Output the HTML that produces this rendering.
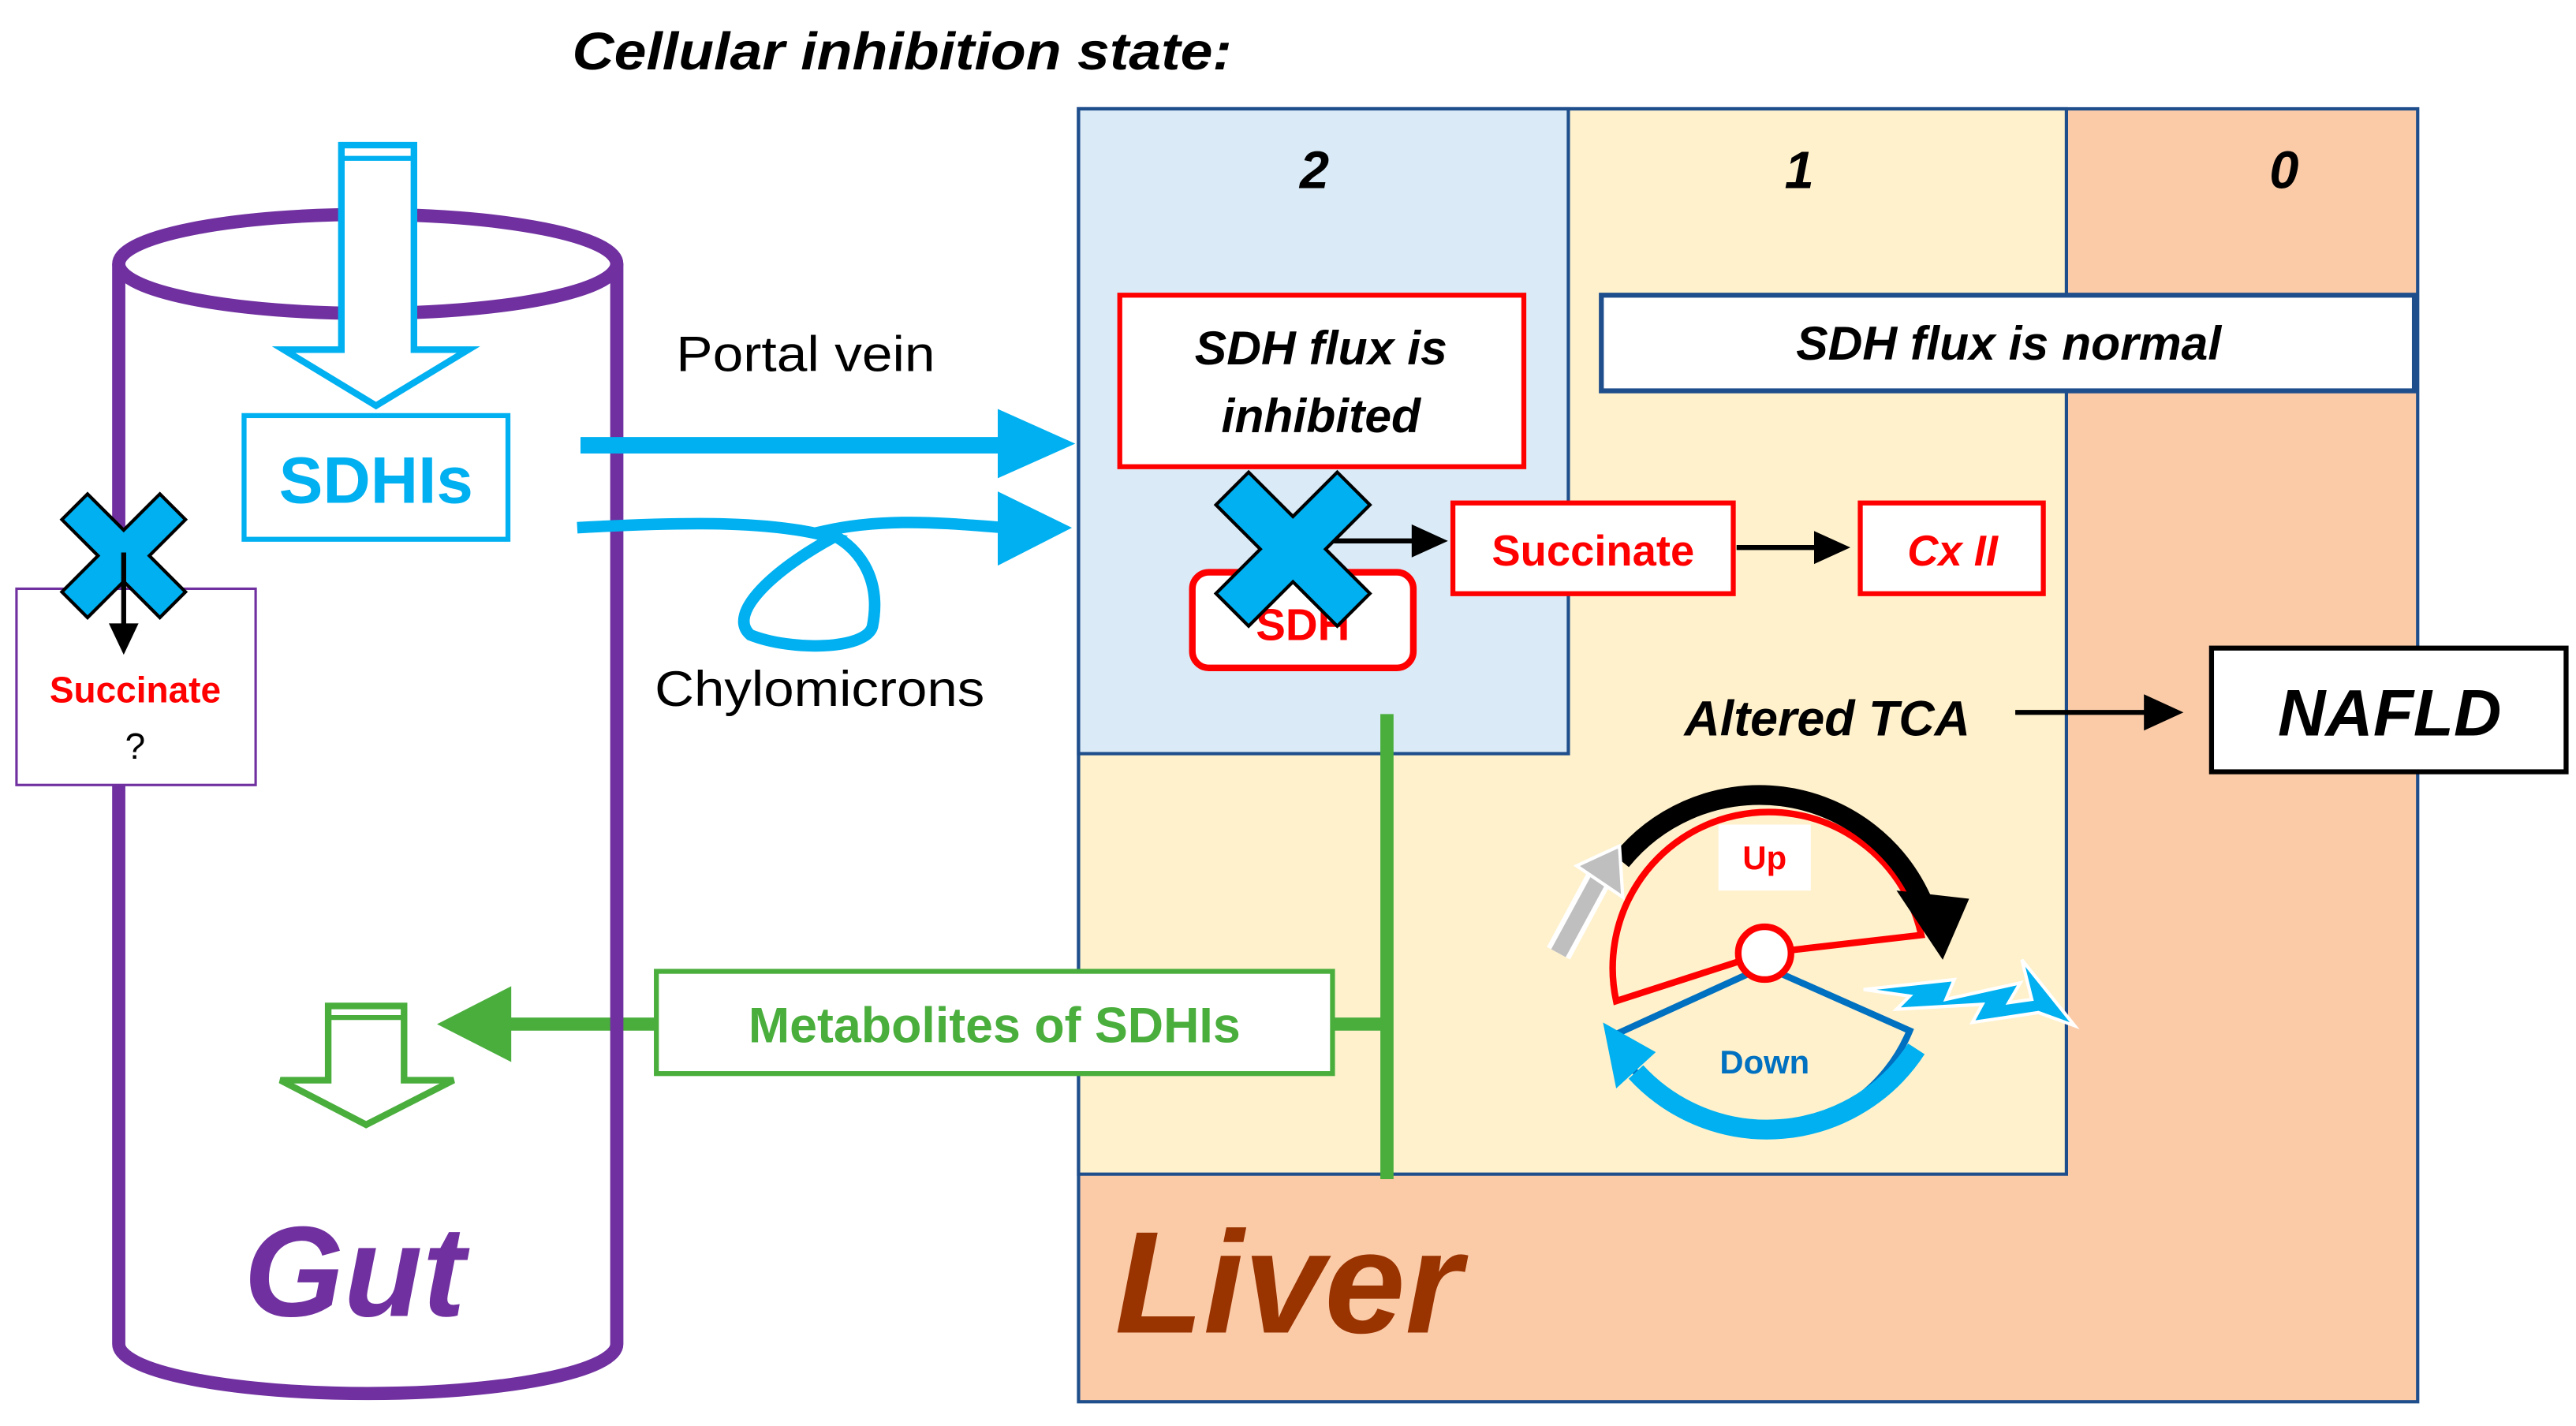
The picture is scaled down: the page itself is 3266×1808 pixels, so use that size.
<!DOCTYPE html>
<html><head><meta charset="utf-8"><style>
html,body{margin:0;padding:0;background:#fff;}
svg{display:block;}
text{font-family:"Liberation Sans",sans-serif;}
</style></head><body>
<svg width="3266" height="1808" viewBox="0 0 1562 864.7" xmlns="http://www.w3.org/2000/svg">
<text x="347" y="42" font-size="32" font-weight="bold" font-style="italic" fill="#000" textLength="400" lengthAdjust="spacingAndGlyphs">Cellular inhibition state:</text>

<rect x="654" y="66" width="812" height="784" fill="#FBCBA8" stroke="#1F4E8C" stroke-width="2"/>
<path d="M654,66 H1253 V712 H654 Z" fill="#FFF1CC" stroke="#1F4E8C" stroke-width="2"/>
<rect x="654" y="66" width="297" height="391" fill="#DAEAF6" stroke="#1F4E8C" stroke-width="2"/>
<text x="797" y="114" font-size="32" font-weight="bold" font-style="italic" text-anchor="middle">2</text>
<text x="1091" y="114" font-size="32" font-weight="bold" font-style="italic" text-anchor="middle">1</text>
<text x="1385" y="114" font-size="32" font-weight="bold" font-style="italic" text-anchor="middle">0</text>

<rect x="679" y="179" width="245" height="104" fill="#fff" stroke="#F00" stroke-width="3"/>
<text x="801" y="221" font-size="29" font-style="italic" font-weight="bold" text-anchor="middle">SDH flux is</text>
<text x="801" y="262" font-size="29" font-style="italic" font-weight="bold" text-anchor="middle">inhibited</text>

<rect x="971" y="179" width="493" height="58" fill="#fff" stroke="#1F4E8C" stroke-width="3"/>
<text x="1218" y="218" font-size="29" font-style="italic" font-weight="bold" text-anchor="middle">SDH flux is normal</text>

<rect x="723" y="347" width="134" height="58" rx="10" fill="#fff" stroke="#F00" stroke-width="4"/>
<text x="790" y="388" font-size="27" font-weight="bold" fill="#F00" text-anchor="middle">SDH</text>

<rect x="881" y="305" width="170" height="55" fill="#fff" stroke="#F00" stroke-width="3"/>
<text x="966" y="343" font-size="26" font-weight="bold" fill="#F00" text-anchor="middle">Succinate</text>
<rect x="1128" y="305" width="111" height="55" fill="#fff" stroke="#F00" stroke-width="3"/>
<text x="1184" y="343" font-size="26" font-weight="bold" font-style="italic" fill="#F00" text-anchor="middle">Cx II</text>

<line x1="808" y1="328" x2="858" y2="328" stroke="#000" stroke-width="3"/>
<polygon points="856,318 878,328 856,338" fill="#000"/>
<line x1="1053" y1="332" x2="1102" y2="332" stroke="#000" stroke-width="3"/>
<polygon points="1100,322 1122,332 1100,342" fill="#000"/>

<g transform="translate(784,333) rotate(45)">
<path d="M-14,-52 H14 V-14 H52 V14 H14 V52 H-14 V14 H-52 V-14 H-14 Z" fill="#00B0F0" stroke="#000" stroke-width="2"/>
</g>

<text x="1108" y="446" font-size="30" font-weight="bold" font-style="italic" text-anchor="middle">Altered TCA</text>
<line x1="1222" y1="432" x2="1302" y2="432" stroke="#000" stroke-width="3"/>
<polygon points="1300,421 1324,432 1300,443" fill="#000"/>
<rect x="1341" y="393" width="215" height="75" fill="#fff" stroke="#000" stroke-width="3"/>
<text x="1449" y="446" font-size="40" font-weight="bold" font-style="italic" text-anchor="middle">NAFLD</text>

<path d="M1070,578 L980,607 A93,93 0 0,1 1165,567 Z" fill="none" stroke="#F00" stroke-width="4"/>
<rect x="1042" y="500" width="56" height="40" fill="#fff"/>
<text x="1070" y="527" font-size="20" font-weight="bold" fill="#F00" text-anchor="middle">Up</text>
<path d="M983,522 A108,108 0 0,1 1165,545" fill="none" stroke="#000" stroke-width="12"/>
<polygon points="1150,540 1194,545 1178,582" fill="#000"/>
<line x1="945" y1="578" x2="972" y2="528" stroke="#fff" stroke-width="16"/>
<line x1="945" y1="578" x2="970" y2="532" stroke="#BFBFBF" stroke-width="10"/>
<polygon points="956,525 982,513 984,544" fill="#BFBFBF" stroke="#fff" stroke-width="2"/>
<path d="M1070,586 L978,628 A98,98 0 0,0 1158,625 Z" fill="none" stroke="#0070C0" stroke-width="4"/>
<path d="M1162,636 A108,108 0 0,1 992,650" fill="none" stroke="#00B0F0" stroke-width="12"/>
<polygon points="972,620 1004,638 980,660" fill="#00B0F0"/>
<text x="1070" y="651" font-size="20" font-weight="bold" fill="#0070C0" text-anchor="middle">Down</text>
<circle cx="1070" cy="578" r="16" fill="#fff" stroke="#F00" stroke-width="4"/>
<polygon points="1130,600 1185,594 1180,606 1225,596 1218,608 1232,606 1226,582 1258,622 1236,614 1196,620 1202,609 1150,612 1158,604" fill="#00B0F0" stroke="#fff" stroke-width="2"/>

<line x1="841" y1="433" x2="841" y2="715" stroke="#4AAE3D" stroke-width="8"/>
<line x1="808" y1="621" x2="841" y2="621" stroke="#4AAE3D" stroke-width="8"/>
<rect x="398" y="589" width="410" height="62" fill="#fff" stroke="#4AAE3D" stroke-width="3"/>
<text x="603" y="632" font-size="30" font-weight="bold" fill="#4AAE3D" text-anchor="middle">Metabolites of SDHIs</text>
<line x1="398" y1="621" x2="305" y2="621" stroke="#4AAE3D" stroke-width="8"/>
<polygon points="310,598 265,621 310,644" fill="#4AAE3D"/>

<path d="M72,160 V815 A151,30 0 0,0 374,815 V160" fill="none" stroke="#7030A0" stroke-width="8"/>
<ellipse cx="223" cy="160" rx="151" ry="30" fill="none" stroke="#7030A0" stroke-width="8"/>
<text x="215" y="798" font-size="78" font-weight="bold" font-style="italic" fill="#7030A0" text-anchor="middle">Gut</text>

<path d="M207,88 H251 V212 H284 L228,246 L172,212 H207 Z" fill="#fff" stroke="#00B0F0" stroke-width="4"/>
<line x1="207" y1="96" x2="251" y2="96" stroke="#00B0F0" stroke-width="3"/>
<rect x="148" y="252" width="160" height="75" fill="#fff" stroke="#00B0F0" stroke-width="3"/>
<text x="228" y="305" font-size="40" font-weight="bold" fill="#00B0F0" text-anchor="middle">SDHIs</text>

<path d="M199,610 H245 V655 H275 L222,682 L170,655 H199 Z" fill="#fff" stroke="#4AAE3D" stroke-width="4"/>
<line x1="199" y1="617" x2="245" y2="617" stroke="#4AAE3D" stroke-width="3"/>

<rect x="10" y="357" width="145" height="119" fill="#fff" stroke="#7030A0" stroke-width="1.5"/>
<text x="82" y="426" font-size="22" font-weight="bold" fill="#F00" text-anchor="middle">Succinate</text>
<text x="82" y="460" font-size="22" text-anchor="middle">?</text>
<g transform="translate(75,337) rotate(45)">
<path d="M-11,-42 H11 V-11 H42 V11 H11 V42 H-11 V11 H-42 V-11 H-11 Z" fill="#00B0F0" stroke="#000" stroke-width="2"/>
</g>
<line x1="75" y1="335" x2="75" y2="380" stroke="#000" stroke-width="3"/>
<polygon points="66,378 84,378 75,397" fill="#000"/>

<text x="410" y="225" font-size="30" fill="#000" textLength="157" lengthAdjust="spacingAndGlyphs">Portal vein</text>
<line x1="352" y1="270" x2="610" y2="270" stroke="#00B0F0" stroke-width="10"/>
<polygon points="605,248 652,269 605,290" fill="#00B0F0"/>
<path d="M350,320 C420,316 470,316 505,326 C470,345 440,372 455,385 C480,395 525,394 529,380 C535,350 520,330 500,322 C540,313 580,318 610,320" fill="none" stroke="#00B0F0" stroke-width="7"/>
<polygon points="605,298 650,320 605,343" fill="#00B0F0"/>
<text x="397" y="428" font-size="30" fill="#000" textLength="200" lengthAdjust="spacingAndGlyphs">Chylomicrons</text>

<text x="676" y="808" font-size="88" font-weight="bold" font-style="italic" fill="#993300">Liver</text>
</svg>
</body></html>
